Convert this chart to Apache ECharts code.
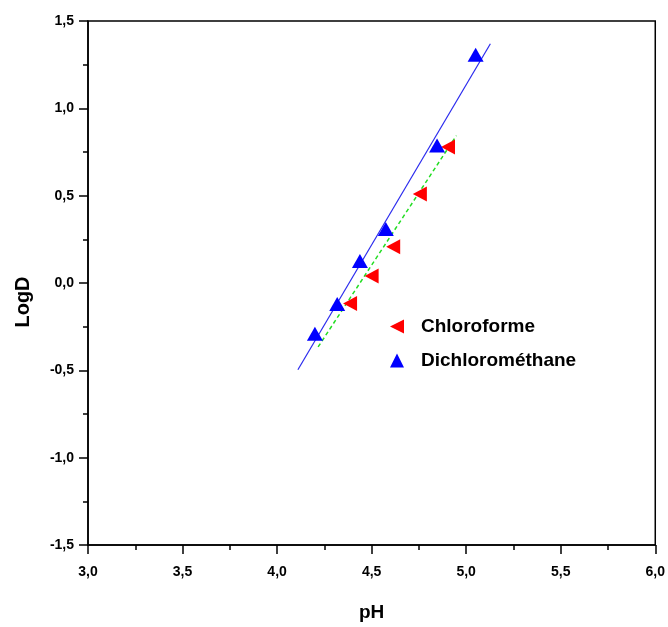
<!DOCTYPE html>
<html>
<head>
<meta charset="utf-8">
<script src="https://cdn.jsdelivr.net/npm/echarts@6/dist/echarts.min.js"></script>
<style>
  html, body { margin: 0; padding: 0; background: #fff; }
  #chart { width: 668px; height: 627px; }
</style>
</head>
<body>
<div id="chart"></div>
<script>
// measured points (pH, LogD)
var chloroPH = [4.386, 4.50, 4.614, 4.755, 4.904];
var chloroLogD = [-0.117, 0.04, 0.207, 0.509, 0.778];
var dichloroPH = [4.20, 4.318, 4.438, 4.575, 4.846, 5.05];
var dichloroLogD = [-0.29, -0.12, 0.126, 0.309, 0.787, 1.307];
// fitted lines, end points
var chloroFitPH = [4.217, 4.948];
var chloroFitLogD = [-0.366, 0.844];
var dichloroFitPH = [4.11, 5.128];
var dichloroFitLogD = [-0.497, 1.37];

function pairs(xs, ys) {
    var out = [];
    for (var i = 0; i < xs.length; i++) out.push([xs[i], ys[i]]);
    return out;
}
function comma(v) {
    return v.toFixed(1).replace('.', ',');
}

var leftTri = 'path://M0,5 L10,0 L10,10 Z';
var boldFont = 'Liberation Sans';

var myChart = echarts.init(document.getElementById('chart'));
var option = {
    animation: false,
    backgroundColor: '#fff',
    grid: {
        left: 88, right: 12, top: 21, bottom: 77,
        show: true, borderColor: '#000', borderWidth: 1.5
    },
    legend: {
        orient: 'vertical',
        left: 385, top: 312,
        itemGap: 15,
        itemWidth: 14, itemHeight: 14,
        textStyle: {fontFamily: boldFont, fontWeight: 'bold', fontSize: 19, color: '#000', padding: [0, 0, 0, 12]},
        data: [
            {name: 'Chloroforme', icon: leftTri},
            {name: 'Dichlorométhane', icon: 'triangle'}
        ]
    },
    xAxis: {
        type: 'value',
        min: 3, max: 6, interval: 0.5,
        name: 'pH', nameLocation: 'middle', nameGap: 58,
        nameTextStyle: {fontFamily: boldFont, fontWeight: 'bold', fontSize: 19, color: '#000'},
        axisLine: {onZero: false, lineStyle: {color: '#000', width: 1.5}},
        axisTick: {length: 9, lineStyle: {color: '#000', width: 1.5}},
        minorTick: {show: true, splitNumber: 2, length: 5, lineStyle: {color: '#000', width: 1.5}},
        splitLine: {show: false},
        axisLabel: {formatter: comma, margin: 20, fontFamily: boldFont, fontWeight: 'bold', fontSize: 14, color: '#000'}
    },
    yAxis: {
        type: 'value',
        min: -1.5, max: 1.5, interval: 0.5,
        name: 'LogD', nameLocation: 'middle', nameGap: 55,
        nameTextStyle: {fontFamily: boldFont, fontWeight: 'bold', fontSize: 20, color: '#000', padding: [0, 38, 0, 0]},
        axisLine: {onZero: false, lineStyle: {color: '#000', width: 1.5}},
        axisTick: {length: 9, lineStyle: {color: '#000', width: 1.5}},
        minorTick: {show: true, splitNumber: 2, length: 5, lineStyle: {color: '#000', width: 1.5}},
        splitLine: {show: false},
        axisLabel: {formatter: comma, margin: 14, fontFamily: boldFont, fontWeight: 'bold', fontSize: 14, color: '#000'}
    },
    series: [
        {
            name: 'Chloroforme fit',
            type: 'line',
            data: pairs(chloroFitPH, chloroFitLogD),
            symbol: 'none',
            lineStyle: {color: '#22dd22', width: 1.5, type: [4, 3]},
            z: 2
        },
        {
            name: 'Dichlorométhane fit',
            type: 'line',
            data: pairs(dichloroFitPH, dichloroFitLogD),
            symbol: 'none',
            lineStyle: {color: '#2a2aee', width: 1.2},
            z: 2
        },
        {
            name: 'Chloroforme',
            type: 'scatter',
            data: pairs(chloroPH, chloroLogD),
            symbol: leftTri,
            symbolSize: [14, 15],
            itemStyle: {color: '#ff0000', opacity: 1},
            z: 3
        },
        {
            name: 'Dichlorométhane',
            type: 'scatter',
            data: pairs(dichloroPH, dichloroLogD),
            symbol: 'triangle',
            symbolSize: [16, 14],
            itemStyle: {color: '#0000ff', opacity: 1},
            z: 3
        }
    ]
};
myChart.setOption(option);
</script>
</body>
</html>
